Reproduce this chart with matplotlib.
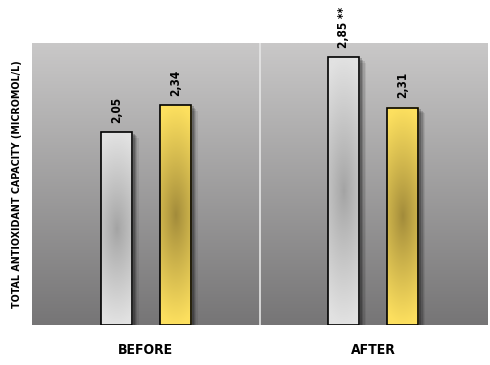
import numpy as np
import matplotlib
matplotlib.use("Agg")
import matplotlib.pyplot as plt
import matplotlib.patheffects as pe
from matplotlib import font_manager as fm
from matplotlib.colors import to_rgb

# ---- data ----
categories = ["BEFORE", "AFTER"]
series_silver = [2.05, 2.85]
series_gold = [2.34, 2.31]
silver_marks = ["", " **"]
gold_marks = ["", ""]
ylabel = "TOTAL ANTIOXIDANT CAPACITY (MICROMOL/L)"

names = {f.name for f in fm.fontManager.ttflist}
if "Liberation Sans Narrow" in names:
    FONT = dict(family="Liberation Sans Narrow", weight="bold")
else:
    FONT = dict(family="DejaVu Sans", stretch="condensed", weight="bold")

fig = plt.figure(figsize=(4.9, 3.65), dpi=100)
ax = fig.add_axes([32/490, 40/365, 455/490, 282/365])
ax.set_xlim(-0.5, 1.5)
ax.set_ylim(0, 3.0)

# background gradient
g = np.linspace(0, 1, 256)[:, None]
top = np.array([201, 200, 200]) / 255
bot = np.array([118, 117, 118]) / 255
bg = top[None, None, :] * (1 - g[..., None]) + bot[None, None, :] * g[..., None]
bg = np.repeat(bg, 2, axis=1)
ax.imshow(bg, extent=[0, 1, 0, 1], transform=ax.transAxes, aspect="auto",
          zorder=0, interpolation="bilinear")
ax.axvline(0.5, color="#e6e6e6", lw=1.2, zorder=0.5)

x = np.arange(len(categories))
w = 0.137
off = 0.13

def shade(light, dark):
    light = np.array(to_rgb(light)); dark = np.array(to_rgb(dark))
    yy, xx = np.mgrid[-1:1:200j, -1:1:40j]
    d = np.clip(np.sqrt(yy**2 + (0.45 * xx)**2), 0, 1)
    d = d ** 0.9
    return dark[None, None, :] * (1 - d[..., None]) + light[None, None, :] * d[..., None]

def draw_series(vals, xpos, light, dark, marks):
    for o, a in [((5, -4), 0.07), ((4, -3), 0.10), ((3, -2), 0.15), ((2, -1), 0.2)]:
        ax.bar(xpos, vals, w, facecolor="none", edgecolor="none", zorder=1,
               path_effects=[pe.SimplePatchShadow(offset=o, shadow_rgbFace="black", alpha=a)])
    bars = ax.bar(xpos, vals, w, facecolor="none", edgecolor="black", lw=1.2, zorder=3)
    img = shade(light, dark)
    for r, v, m in zip(bars, vals, marks):
        x0, y0 = r.get_x(), r.get_y()
        ax.imshow(img, extent=[x0, x0 + r.get_width(), y0, y0 + r.get_height()],
                  aspect="auto", zorder=2, interpolation="bilinear")
        ax.text(x0 + r.get_width() / 2, v + 0.1, f"{v:.2f}".replace(".", ",") + m,
                rotation=90, ha="center", va="bottom", fontsize=8.5, color="black",
                **FONT)

draw_series(series_silver, x - off, "#e2e2e2", "#a3a3a3", silver_marks)
draw_series(series_gold, x + off, "#fde05f", "#a18a3a", gold_marks)

ax.set_xlim(-0.5, 1.5)
ax.set_ylim(0, 3.0)
ax.set_xticks(x)
ax.set_xticklabels(categories, fontsize=10, **FONT)
ax.tick_params(axis="x", length=0, pad=13)
ax.set_yticks([])
for s in ax.spines.values():
    s.set_visible(False)
ax.set_ylabel(ylabel, fontsize=7.7, labelpad=7, **FONT)

fig.savefig("out.png", dpi=100)
